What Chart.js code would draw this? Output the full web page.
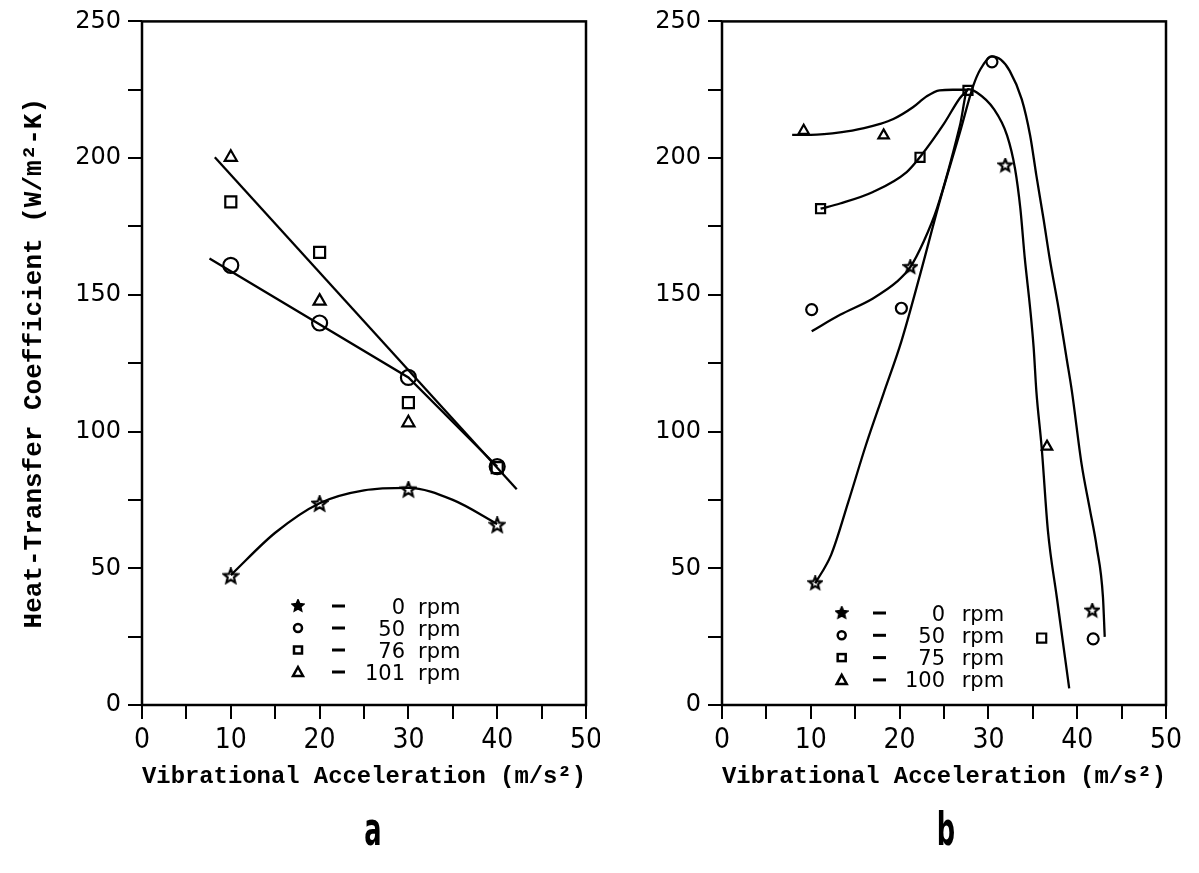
<!DOCTYPE html>
<html>
<head>
<meta charset="utf-8">
<script src="https://cdn.jsdelivr.net/npm/chart.js@4.4.0/dist/chart.umd.min.js"></script>
<style>
    body { margin: 0; background: #fff; }
    #wrap { position: relative; width: 1199px; height: 873px; overflow: hidden; }
    canvas { position: absolute; top: 0; }
    #chartA { left: 0; }
    #chartB { left: 600px; }
    .panel-tag {
        position: absolute;
        top: 806px;
        width: 40px;
        text-align: center;
        font-family: 'Liberation Sans Narrow', 'DejaVu Sans Condensed', sans-serif;
        font-weight: bold;
        font-size: 46px;
        line-height: 46px;
        transform: scaleX(0.62);
    }
</style>
</head>
<body>
<div id="wrap">
    <canvas id="chartA" width="600" height="873"></canvas>
    <canvas id="chartB" width="599" height="873"></canvas>
    <div class="panel-tag" style="left:353px">a</div>
    <div class="panel-tag" style="left:926px">b</div>
</div>
<script>
// ---- panel a: measured points ----
const aX = [10, 20, 30, 40];
const aStar = [47, 73.5, 78.7, 65.7];
const aCircle = [160.8, 139.7, 119.8, 87.2];
const aSquare = [184, 165.5, 110.6, 86.8];
const aTriX = [10, 20, 30];
const aTri = [200.3, 147.7, 103.2];

// ---- panel a: fitted lines ----
const aStarFitX = [10, 15, 20, 25, 30, 35, 40];
const aStarFitY = [47.5, 63, 73.8, 78.5, 79.4, 75, 66.2];
const aCircleFitX = [7.6, 30, 40];
const aCircleFitY = [163.3, 119.8, 87.2];
const aSteepFitX = [8.2, 42.2];
const aSteepFitY = [200.3, 78.9];

// ---- panel b: measured points ----
const bStarX = [10.5, 21.2, 31.9, 41.7];
const bStar = [44.5, 160.1, 197.3, 34.5];
const bCircleX = [10.1, 20.2, 30.4, 41.8];
const bCircle = [144.6, 145.1, 235.2, 24.2];
const bSquareX = [11.1, 22.3, 27.7, 36];
const bSquare = [181.5, 200.3, 224.8, 24.5];
const bTriX = [9.2, 18.2, 36.6];
const bTri = [210, 208.3, 94.5];

// ---- panel b: fitted curves ----
const bOuterX = [10.5, 12.3, 14.2, 16.2, 18.2, 20.2, 22.3, 24.5, 26.8, 28.3, 29.1, 30.4, 31.4, 32.4, 33.75, 34.7, 35.4, 36.2, 36.9, 37.9, 38.8, 39.4, 40.5, 41.4, 42.2, 42.9, 43.1];
const bOuterY = [44.5, 55, 74, 95, 114, 133, 157.3, 184, 209.5, 226.5, 232.5, 237.2, 236, 231.9, 221.6, 208.3, 193.7, 177.9, 163.3, 145.1, 126.9, 114.8, 88, 72, 57.7, 39.5, 24.9];
const bInnerX = [10.1, 13.3, 17, 19.7, 21.2, 22.7, 24.2, 26.8, 27.7, 28.7, 30.6, 32.1, 33, 33.6, 34.1, 34.7, 35.1, 35.4, 36, 36.7, 37.7, 39.1];
const bInnerY = [136.7, 142.7, 148.7, 154.8, 160.1, 169.4, 181.5, 212, 225.2, 224, 218, 208.3, 196.1, 181.5, 163.3, 145.1, 130.5, 114.8, 94.1, 63.8, 39.5, 6.1];
const bSquareFitX = [11.1, 13.3, 17, 20.8, 22.3, 25, 26.8, 27.7];
const bSquareFitY = [181.5, 183.4, 187.6, 194.9, 200.4, 212.6, 222, 225];
const bTriFitX = [7.9, 10, 13.5, 16, 17.8, 19.3, 21.5, 23, 24.5, 26, 27.7];
const bTriFitY = [208.5, 208.5, 209.5, 211, 212.5, 214.3, 218.6, 222.5, 224.8, 225, 225];

// legend labels
const rpmA = ['0', '50', '76', '101'];
const rpmB = ['0', '50', '75', '100'];

const pts = (xs, ys) => xs.map((x, i) => ({ x: x, y: ys[i] }));

// 5-point star drawn onto a small canvas, used as a pointStyle
function starImage(size, outer, inner, fill) {
    const c = document.createElement('canvas');
    c.width = size;
    c.height = size;
    const g = c.getContext('2d');
    g.beginPath();
    for (let i = 0; i < 10; i++) {
        const r = i % 2 ? inner : outer;
        const a = -Math.PI / 2 + i * Math.PI / 5;
        g.lineTo(size / 2 + r * Math.cos(a), size / 2 + r * Math.sin(a));
    }
    g.closePath();
    g.lineWidth = 2.2;
    g.strokeStyle = '#000';
    g.stroke();
    if (fill) {
        g.fillStyle = '#000';
        g.fill();
    }
    return c;
}

const starA = starImage(18, 7.5, 3.3, false);
const starB = starImage(16, 6.5, 2.9, false);
const starLegend = starImage(14, 5.5, 2.6, true);

// frame around the plot area
const framePlugin = {
    id: 'frame',
    afterDraw(chart) {
        const { ctx, chartArea: a } = chart;
        ctx.save();
        ctx.lineWidth = 2.5;
        ctx.strokeStyle = '#000';
        ctx.strokeRect(a.left, a.top, a.right - a.left, a.bottom - a.top);
        ctx.restore();
    }
};

// symbol - value rpm legend
const rpmLegend = {
    id: 'rpmLegend',
    afterDraw(chart, args, opts) {
        const ctx = chart.ctx;
        ctx.save();
        ctx.fillStyle = '#000';
        ctx.strokeStyle = '#000';
        ctx.lineWidth = 2.5;
        ctx.font = '21px "DejaVu Sans"';
        ctx.textBaseline = 'alphabetic';
        opts.labels.forEach((label, i) => {
            const y = opts.top + i * opts.gap;
            const mx = opts.markerX;
            ctx.beginPath();
            if (i === 0) {
                ctx.drawImage(starLegend, mx - 7, y - 7);
            } else if (i === 1) {
                ctx.arc(mx, y, 4, 0, Math.PI * 2);
                ctx.stroke();
            } else if (i === 2) {
                ctx.strokeRect(mx - 4, y - 3.5, 8, 7);
            } else {
                ctx.moveTo(mx, y - 5);
                ctx.lineTo(mx + 5, y + 4);
                ctx.lineTo(mx - 5, y + 4);
                ctx.closePath();
                ctx.stroke();
            }
            ctx.fillRect(opts.dashX, y - 1.5, 13, 3);
            ctx.textAlign = 'right';
            ctx.fillText(label, opts.numRight, y + 7.5);
            ctx.textAlign = 'left';
            ctx.fillText('rpm', opts.rpmX, y + 7.5);
        });
        ctx.restore();
    }
};

function markers(data, style, radius) {
    return {
        data: data,
        showLine: false,
        pointStyle: style,
        pointRadius: radius,
        pointBorderWidth: 2.2,
        pointBorderColor: '#000',
        pointBackgroundColor: 'rgba(0,0,0,0)'
    };
}

function curve(data, smooth) {
    return {
        data: data,
        showLine: true,
        pointRadius: 0,
        borderColor: '#000',
        borderWidth: 2.3,
        cubicInterpolationMode: smooth ? 'monotone' : 'default',
        tension: 0
    };
}

function makeOptions(yWidth, rightPad, showYTitle, legendOpts) {
    return {
        responsive: false,
        animation: false,
        layout: { padding: { top: 19, right: rightPad, bottom: 0, left: 0 } },
        plugins: {
            legend: { display: false },
            tooltip: { enabled: false },
            rpmLegend: legendOpts
        },
        scales: {
            x: {
                type: 'linear',
                min: 0,
                max: 50,
                afterFit: (s) => {
                    s.height = 168;
                    s.paddingLeft = 0;
                    s.paddingRight = 0;
                },
                border: { display: false },
                grid: { drawOnChartArea: false, drawTicks: true, tickLength: 14, color: '#000', lineWidth: 2 },
                ticks: {
                    stepSize: 5,
                    autoSkip: false,
                    maxRotation: 0,
                    padding: 5,
                    color: '#000',
                    font: { family: "'Liberation Sans Narrow', 'DejaVu Sans Condensed', sans-serif", size: 28 },
                    callback: (v) => (v % 10 === 0 ? v : '')
                },
                title: {
                    display: true,
                    text: 'Vibrational Acceleration (m/s²)',
                    color: '#000',
                    font: { family: "'Liberation Mono', monospace", size: 24.5, weight: 'bold' },
                    padding: { top: 0, bottom: 81 }
                }
            },
            y: {
                type: 'linear',
                min: 0,
                max: 250,
                afterFit: (s) => { s.width = yWidth; },
                border: { display: false },
                grid: { drawOnChartArea: false, drawTicks: true, tickLength: 14, color: '#000', lineWidth: 2 },
                ticks: {
                    stepSize: 25,
                    autoSkip: false,
                    padding: 7,
                    color: '#000',
                    font: { family: "'DejaVu Sans', sans-serif", size: 24 },
                    callback: (v) => (v % 50 === 0 ? v : '')
                },
                title: {
                    display: showYTitle,
                    text: 'Heat-Transfer Coefficient (W/m²-K)',
                    color: '#000',
                    font: { family: "'Liberation Mono', monospace", size: 26, weight: 'bold' },
                    padding: { top: 19, bottom: 0 }
                }
            }
        }
    };
}

new Chart(document.getElementById('chartA'), {
    type: 'scatter',
    data: {
        datasets: [
            curve(pts(aStarFitX, aStarFitY), true),
            curve(pts(aCircleFitX, aCircleFitY), false),
            curve(pts(aSteepFitX, aSteepFitY), false),
            markers(pts(aX, aStar), starA, 8),
            markers(pts(aX, aCircle), 'circle', 7.5),
            markers(pts(aX, aSquare), 'rect', 7.8),
            markers(pts(aTriX, aTri), 'triangle', 7)
        ]
    },
    options: makeOptions(142, 14, true, {
        labels: rpmA, top: 606, gap: 22, markerX: 298, dashX: 332, numRight: 405, rpmX: 418
    }),
    plugins: [framePlugin, rpmLegend]
});

new Chart(document.getElementById('chartB'), {
    type: 'scatter',
    data: {
        datasets: [
            curve(pts(bOuterX, bOuterY), true),
            curve(pts(bInnerX, bInnerY), true),
            curve(pts(bSquareFitX, bSquareFitY), true),
            curve(pts(bTriFitX, bTriFitY), true),
            markers(pts(bStarX, bStar), starB, 7),
            markers(pts(bCircleX, bCircle), 'circle', 5.5),
            markers(pts(bSquareX, bSquare), 'rect', 6.4),
            markers(pts(bTriX, bTri), 'triangle', 6)
        ]
    },
    options: makeOptions(122, 33, false, {
        labels: rpmB, top: 613, gap: 22.3, markerX: 241.7, dashX: 273, numRight: 345, rpmX: 361.7
    }),
    plugins: [framePlugin, rpmLegend]
});
</script>
</body>
</html>
